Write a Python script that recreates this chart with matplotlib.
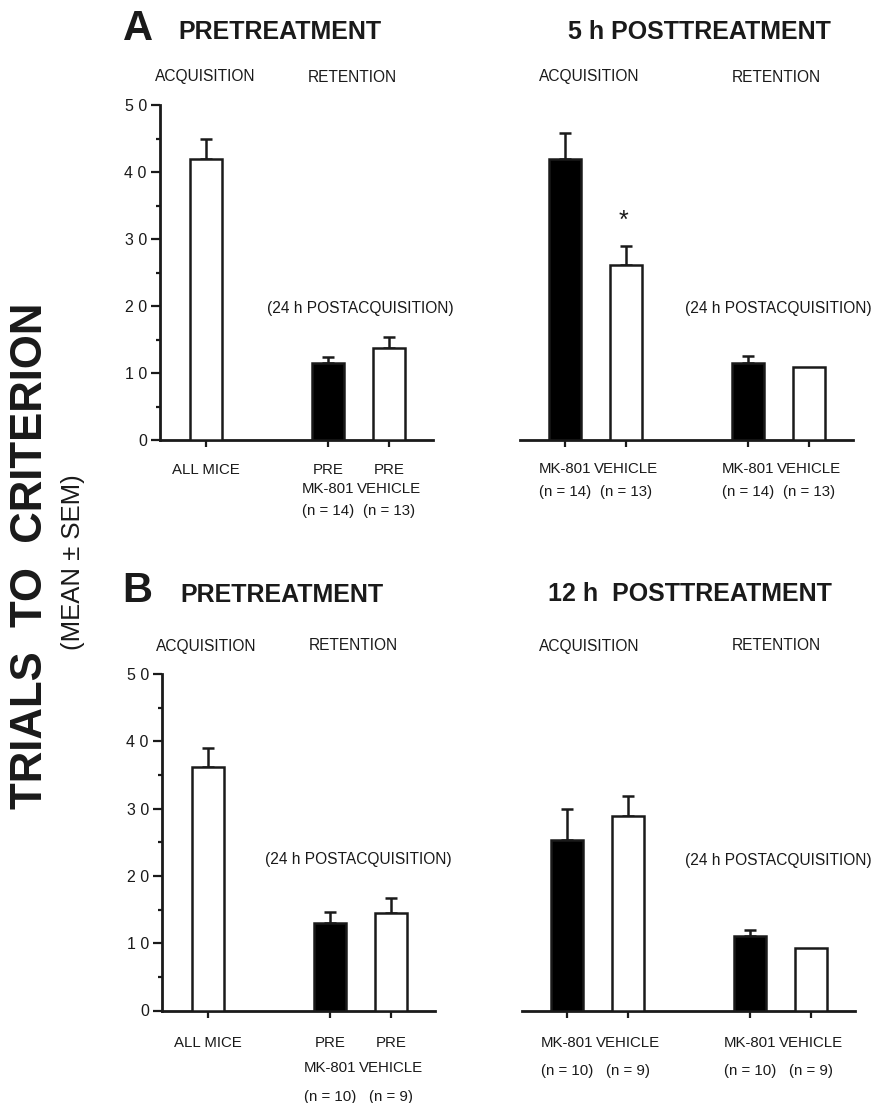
import matplotlib
matplotlib.use('Agg')
import matplotlib.pyplot as plt
from matplotlib.ticker import MultipleLocator

plt.rcParams['font.family'] = ['Liberation Sans', 'DejaVu Sans']

# ---------------- data ----------------
pre_pos = [0, 2, 3]
post_pos = [0, 1, 3, 4]
pre_fill = ['white', 'black', 'white']
post_fill = ['black', 'white', 'black', 'white']

preA_labels = ["ALL MICE", "PRE\nMK-801\n(n = 14)", "PRE\nVEHICLE\n(n = 13)"]
preA_means = [42.0, 11.5, 13.7]
preA_sems = [2.9, 0.9, 1.7]

post5_labels = ["MK-801\n(n = 14)", "VEHICLE\n(n = 13)", "MK-801\n(n = 14)", "VEHICLE\n(n = 13)"]
post5_means = [41.9, 26.1, 11.5, 10.9]
post5_sems = [3.9, 2.9, 1.0, 0.0]

preB_labels = ["ALL MICE", "PRE\nMK-801\n(n = 10)", "PRE\nVEHICLE\n(n = 9)"]
preB_means = [36.2, 13.0, 14.5]
preB_sems = [2.8, 1.6, 2.2]

post12_labels = ["MK-801\n(n = 10)", "VEHICLE\n(n = 9)", "MK-801\n(n = 10)", "VEHICLE\n(n = 9)"]
post12_means = [25.4, 28.9, 11.1, 9.3]
post12_sems = [4.5, 2.9, 0.8, 0.0]

yticks = [0, 10, 20, 30, 40, 50]
ytick_labels = ["0", "1 0", "2 0", "3 0", "4 0", "5 0"]

INK = '#1a1a1a'
W, H = 873, 1103
fig = plt.figure(figsize=(W / 100, H / 100), dpi=100)


def axes_px(x0, x1, ytop, ybot):
    return fig.add_axes([x0 / W, 1 - ybot / H, (x1 - x0) / W, (ybot - ytop) / H])


def ftext(x, y, s, **kw):
    kw.setdefault('color', INK)
    return fig.text(x / W, 1 - y / H, s, **kw)


LBL = 10.8


def draw_panel(ax, pos, means, sems, fills, labels, offsets, left_axis, xlim):
    ax.bar(pos, means, width=0.525, color=fills, edgecolor=INK, linewidth=1.8, zorder=3)
    epos = [p for p, s in zip(pos, sems) if s > 0]
    emean = [m for m, s in zip(means, sems) if s > 0]
    esem = [s for s in sems if s > 0]
    ax.errorbar(epos, emean, yerr=[[0] * len(esem), esem], fmt='none', ecolor=INK,
                elinewidth=1.8, capsize=4.3, capthick=1.8, zorder=2, clip_on=False)
    ax.set_xlim(*xlim)
    ax.set_ylim(0, 50)
    for s in ['top', 'right']:
        ax.spines[s].set_visible(False)
    ax.spines['bottom'].set_linewidth(2.0)
    ax.spines['bottom'].set_color(INK)
    ax.set_xticks(pos)
    ax.set_xticklabels([])
    ax.tick_params(axis='x', length=5, width=1.6, color=INK, direction='out')
    if left_axis:
        ax.spines['left'].set_linewidth(2.0)
        ax.spines['left'].set_color(INK)
        ax.set_yticks(yticks)
        ax.set_yticklabels(ytick_labels, fontsize=11.5, color=INK)
        ax.yaxis.set_minor_locator(MultipleLocator(5))
        ax.tick_params(axis='y', which='major', length=6.5, width=1.6, pad=3, color=INK)
        ax.tick_params(axis='y', which='minor', length=3, width=1.6, color=INK)
    else:
        ax.spines['left'].set_visible(False)
        ax.set_yticks([])
    cap = LBL * 100 / 72 * 0.716 / 2
    for p, lab in zip(pos, labels):
        for line, off in zip(lab.split('\n'), offsets):
            ax.annotate(line, xy=(p, 0), xycoords=('data', 'axes fraction'),
                        xytext=(0, -(off + cap) * 0.72), textcoords='offset points',
                        ha='center', va='baseline', fontsize=LBL, color=INK,
                        annotation_clip=False)


XL_PRE = (-0.754, 3.721)
XL_POST = (-0.738, 4.721)

axA1 = axes_px(160, 433, 105, 440)
draw_panel(axA1, pre_pos, preA_means, preA_sems, pre_fill, preA_labels, [29, 48, 70], True, XL_PRE)
axA2 = axes_px(520, 853, 105, 440)
draw_panel(axA2, post_pos, post5_means, post5_sems, post_fill, post5_labels, [28, 51], False, XL_POST)
axB1 = axes_px(162, 435, 674, 1010.5)
draw_panel(axB1, pre_pos, preB_means, preB_sems, pre_fill, preB_labels, [31, 56, 85], True, XL_PRE)
axB2 = axes_px(522, 855, 674, 1010.5)
draw_panel(axB2, post_pos, post12_means, post12_sems, post_fill, post12_labels, [31, 59], False, XL_POST)

# significance asterisk above 5 h vehicle acquisition bar
axA2.annotate('*', xy=(post_pos[1], post5_means[1] + post5_sems[1]), xytext=(-2, 13),
              textcoords='offset points', ha='center', va='baseline', fontsize=18,
              color=INK, annotation_clip=False)

# ---------------- titles & labels ----------------
ftext(123, 40, 'A', fontsize=30, fontweight='bold', ha='left', va='baseline')
ftext(178, 39, 'PRETREATMENT', fontsize=18, fontweight='bold', ha='left', va='baseline')
ftext(831, 39, '5 h POSTTREATMENT', fontsize=18, fontweight='bold', ha='right', va='baseline')
ftext(122, 602, 'B', fontsize=30, fontweight='bold', ha='left', va='baseline')
ftext(180, 602, 'PRETREATMENT', fontsize=18, fontweight='bold', ha='left', va='baseline')
ftext(832, 601, '12 h  POSTTREATMENT', fontsize=18, fontweight='bold', ha='right', va='baseline')

for (x, y, s) in [(205.5, 81.5, 'ACQUISITION'), (352.5, 81.5, 'RETENTION'),
                  (589, 81.5, 'ACQUISITION'), (776, 81.5, 'RETENTION'),
                  (206, 650.5, 'ACQUISITION'), (353.5, 650.5, 'RETENTION'),
                  (589.5, 650.5, 'ACQUISITION'), (776.5, 650.5, 'RETENTION')]:
    ftext(x, y, s, fontsize=11.2, ha='center', va='baseline')

for (x, y) in [(360, 313.5), (778.5, 312.5), (358.5, 864), (778.5, 865.5)]:
    ftext(x, y, '(24 h POSTACQUISITION)', fontsize=11.2, ha='center', va='baseline')

ftext(31, 556, 'TRIALS  TO  CRITERION', fontsize=31.5, fontweight='bold', rotation=90,
      ha='center', va='center')
ftext(73, 562, '(MEAN ± SEM)', fontsize=18.5, rotation=90, ha='center', va='center')

fig.savefig('out.png', dpi=100)
